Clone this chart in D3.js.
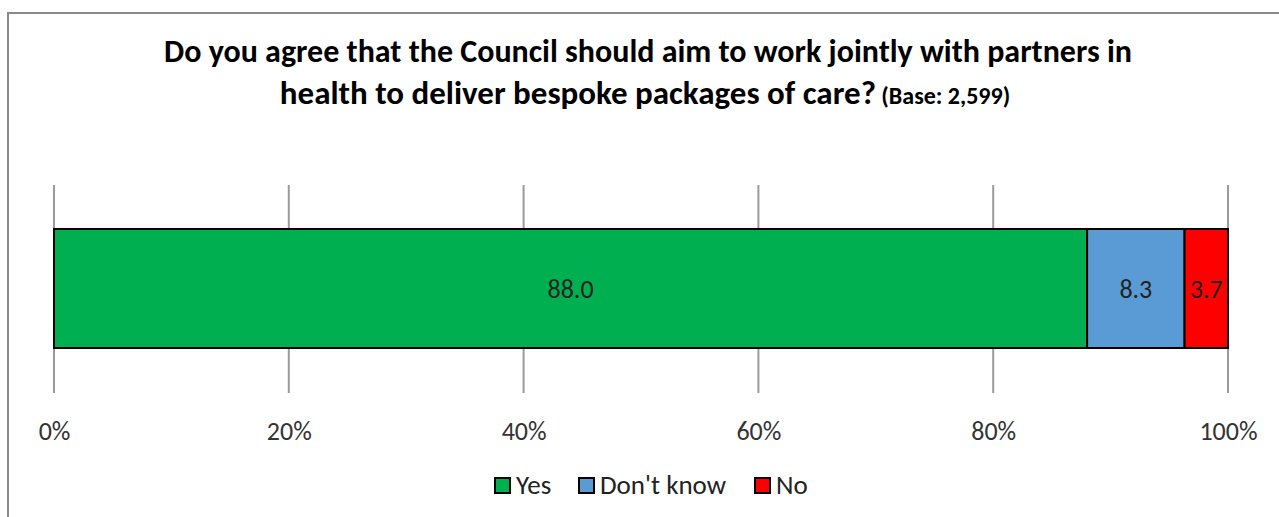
<!DOCTYPE html>
<html><head><meta charset="utf-8">
<script src="https://cdn.jsdelivr.net/npm/d3@7"></script>
<style>html,body{margin:0;padding:0;background:#fff;overflow:hidden}</style>
</head><body><svg id="c" width="1279" height="517"></svg>
<script>
const categories = ["Yes", "Don't know", "No"];
const values = [88.0, 8.3, 3.7];
const colors = ["#00B050", "#5B9BD5", "#FF0000"];
const tickValues = [0, 20, 40, 60, 80, 100];
const titleLines = ["Do you agree that the Council should aim to work jointly with partners in", "health to deliver bespoke packages of care?"];
const baseNote = " (Base: 2,599)";

const svg = d3.select("#c");
const font = "Calibri, Carlito, 'Open Sans', 'Liberation Sans', sans-serif";

svg.append("rect").attr("x", 8).attr("y", 13).attr("width", 1290).attr("height", 520)
  .attr("fill", "#fff").attr("stroke", "#898989").attr("stroke-width", 2);

const t = svg.append("text").attr("text-anchor", "middle").attr("font-family", font)
  .attr("font-weight", "bold").attr("fill", "#000");
t.append("tspan").attr("x", 648).attr("y", 62).attr("font-size", 32).text(titleLines[0]);
const l2 = t.append("tspan").attr("x", 645).attr("y", 104).attr("font-size", 33).text(titleLines[1]);
l2.append("tspan").attr("font-size", 24).text(baseNote);

const x = d3.scaleLinear().domain([0, 100]).range([54, 1228]);
const y0 = 185, y1 = 393, by0 = 229, by1 = 348;

svg.append("g").selectAll("line").data(tickValues).join("line")
  .attr("x1", d => x(d)).attr("x2", d => x(d)).attr("y1", y0).attr("y2", y1)
  .attr("stroke", "#9a9a9a").attr("stroke-width", 2);

const axis = d3.axisBottom(x).tickValues(tickValues).tickFormat(d => d + "%").tickSize(0).tickPadding(0);
const ag = svg.append("g").attr("transform", `translate(0,${y1 + 29})`).call(axis);
ag.select(".domain").remove();
ag.selectAll("text").attr("font-family", font).attr("font-size", 26).attr("fill", "#333");

let cum = 0;
const segs = values.map((v, i) => { const s = {v, i, start: cum}; cum += v; return s; });
const bars = svg.append("g");
bars.selectAll("rect").data(segs).join("rect")
  .attr("x", d => x(d.start)).attr("y", by0)
  .attr("width", d => x(d.start + d.v) - x(d.start)).attr("height", by1 - by0)
  .attr("fill", d => colors[d.i]).attr("stroke", "#000").attr("stroke-width", 2);
bars.selectAll("text").data(segs).join("text")
  .attr("x", d => x(d.start + d.v / 2)).attr("y", (by0 + by1) / 2 + 9)
  .attr("text-anchor", "middle").attr("font-family", font).attr("font-size", 26).attr("fill", "#222")
  .text(d => d.v.toFixed(1));

const lg = svg.append("g").attr("font-family", font).attr("font-size", 27);
const legendX = [495, 579, 755];
categories.forEach((c, i) => {
  lg.append("rect").attr("x", legendX[i]).attr("y", 478).attr("width", 15).attr("height", 15)
    .attr("fill", colors[i]).attr("stroke", "#000").attr("stroke-width", 2);
  lg.append("text").attr("x", legendX[i] + 21).attr("y", 494).attr("fill", "#222").text(c);
});
</script></body></html>
